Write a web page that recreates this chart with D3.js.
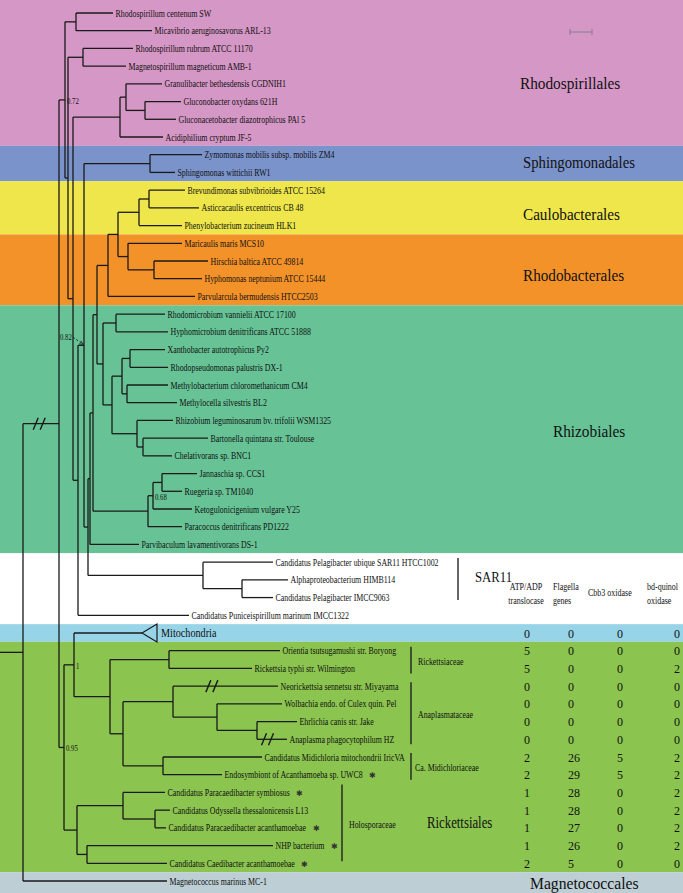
<!DOCTYPE html>
<html><head><meta charset="utf-8">
<script src="https://cdn.jsdelivr.net/npm/d3@7"></script>
<style>
body{margin:0;background:#fff}
svg{display:block}
text{font-family:"Liberation Serif","Times New Roman",serif;fill:#111}
</style></head>
<body><svg id="chart" width="683" height="893"></svg>
<script>
// ---------------- DATA ----------------
// Tree topology with branch lengths (Newick); internal labels are support values
const treeNewick = [
"((",
" (",
"  (Rhodospirillum centenum SW:0.037,Micavibrio aeruginosavorus ARL-13:0.076):0.011,",
"  (",
"   (Rhodospirillum rubrum ATCC 11170:0.050,Magnetospirillum magneticum AMB-1:0.043):0.015,",
"   (",
"    ((Granulibacter bethesdensis CGDNIH1:0.036,(Gluconobacter oxydans 621H:0.036,Gluconacetobacter diazotrophicus PAl 5:0.031):0.019):0.006,Acidiphilium cryptum JF-5:0.043):0.047,",
"    (",
"     (",
"      (Zymomonas mobilis subsp. mobilis ZM4:0.052,Sphingomonas wittichii RW1:0.025):0.066,",
"      (",
"       (",
"        (",
"         (",
"          ((",
"           ((Brevundimonas subvibrioides ATCC 15264:0.036,Asticcacaulis excentricus CB 48:0.050):0.010,Phenylobacterium zucineum HLK1:0.043):0.021,",
"           (Maricaulis maris MCS10:0.054,(Hirschia baltica ATCC 49814:0.054,Hyphomonas neptunium ATCC 15444:0.048):0.026):0.010",
"          ):0.010,",
"          Parvularcula bermudensis HTCC2503:0.087",
"         ):0.011,",
"         (",
"          (Rhodomicrobium vannielii ATCC 17100:0.049,Hyphomicrobium denitrificans ATCC 51888:0.052):0.013,",
"          (",
"           ((Xanthobacter autotrophicus Py2:0.035,Rhodopseudomonas palustris DX-1:0.038):0.008,(Methylobacterium chloromethanicum CM4:0.041,Methylocella silvestris BL2:0.050):0.005):0.010,",
"           (Rhizobium leguminosarum bv. trifolii WSM1325:0.036,(Bartonella quintana str. Toulouse:0.065,Chelativorans sp. BNC1:0.029):0.006):0.025",
"          ):0.009",
"         ):0.006",
"        ):0.004,",
"        (((Jannaschia sp. CCS1:0.035,Ruegeria sp. TM1040:0.020):0.009,Ketogulonicigenium vulgare Y25:0.039)0.68:0.005,Paracoccus denitrificans PD1222:0.034):0.055",
"       ):0.003,",
"       Parvibaculum lavamentivorans DS-1:0.049",
"      ):0.002,",
"      (Candidatus Pelagibacter ubique SAR11 HTCC1002:0.070,(Alphaproteobacterium HIMB114:0.046,Candidatus Pelagibacter IMCC9063:0.031):0.039):0.115",
"     ):0.004",
"    )0.82:0.006,",
"    Candidatus Puniceispirillum marinum IMCC1322:0.111",
"   ):0.005",
"  ):0.005",
" ):0.003",
")0.72:0.006,",
"(",
" (Mitochondria:0.068,",
"  ((Orientia tsutsugamushi str. Boryong:0.111,Rickettsia typhi str. Wilmington:0.083):0.059,",
"   ((Neorickettsia sennetsu str. Miyayama:0.105,(Wolbachia endo. of Culex quin. Pel:0.065,(Ehrlichia canis str. Jake:0.040,Anaplasma phagocytophilum HZ:0.030):0.040):0.044):0.050,",
"    (Candidatus Midichloria mitochondrii IricVA:0.099,Endosymbiont of Acanthamoeba sp. UWC8:0.059):0.040",
"   ):0.013",
"  ):0.036",
" )1:0.010,",
" ((Candidatus Paracaedibacter symbiosus:0.042,(Candidatus Odyssella thessalonicensis L13:0.015,Candidatus Paracaedibacter acanthamoebae:0.011):0.032):0.046,",
"  (NHP bacterium:0.186,Candidatus Caedibacter acanthamoebae:0.080):0.010",
" ):0.013",
")0.95:0.005",
"):0.036,Magnetococcus marinus MC-1:0.144);"
].join("");

const collapsedTaxa = ["Mitochondria"];
const brokenBranches = ["Neorickettsia sennetsu str. Miyayama","Anaplasma phagocytophilum HZ"];
const asteriskTaxa = ["Endosymbiont of Acanthamoeba sp. UWC8","Candidatus Paracaedibacter symbiosus",
  "Candidatus Paracaedibacter acanthamoebae","NHP bacterium","Candidatus Caedibacter acanthamoebae"];

// Coloured clade bands (leaf index ranges)
const cladeNames = ["Rhodospirillales","Sphingomonadales","Caulobacterales","Rhodobacterales","Rhizobiales","SAR11","","Rickettsiales","Magnetococcales"];
const cladeFirst = [0,8,10,13,17,31,35,36,49];
const cladeLast  = [7,9,12,16,30,34,35,48,49];

// Rickettsiales families (leaf index ranges)
const familyNames = ["Rickettsiaceae","Anaplasmataceae","Ca. Midichloriaceae","Holosporaceae"];
const familyFirst = [36,38,42,44];
const familyLast  = [37,41,43,48];

// Genome feature table
const tableHeaders = [["ATP/ADP","translocase"],["Flagella","genes"],["Cbb3 oxidase"],["bd-quinol","oxidase"]];
const tableTaxa = ["Mitochondria","Orientia tsutsugamushi str. Boryong","Rickettsia typhi str. Wilmington",
 "Neorickettsia sennetsu str. Miyayama","Wolbachia endo. of Culex quin. Pel","Ehrlichia canis str. Jake",
 "Anaplasma phagocytophilum HZ","Candidatus Midichloria mitochondrii IricVA","Endosymbiont of Acanthamoeba sp. UWC8",
 "Candidatus Paracaedibacter symbiosus","Candidatus Odyssella thessalonicensis L13","Candidatus Paracaedibacter acanthamoebae",
 "NHP bacterium","Candidatus Caedibacter acanthamoebae"];
const atpTranslocase = [0,5,5,0,0,0,0,2,2,1,1,1,1,2];
const flagellaGenes  = [0,0,0,0,0,0,0,26,29,28,28,27,26,5];
const cbb3Oxidase    = [0,0,0,0,0,0,0,5,5,0,0,0,0,0];
const bdQuinolOxidase= [0,0,2,0,0,0,0,2,2,2,2,2,2,0];

// ---------------- STYLE / LAYOUT ----------------
const W = 683, H = 893;
const bandColors = ["#D597C5","#7B93CB","#EEE64B","#F4922A","#67C396","#FFFFFF","#97D4E7","#8BC44F","#BDCED5"];
// x, baseline y, font size, horizontal scale
const bandLabelPos = [[520,89,17,0.9],[523,168,16,0.92],[523,220,16,0.95],[523,281,16,0.95],[553,437,17,0.9],[475,582,15,0.85],[0,0,0,1],[427,828,16,0.8],[530,889,17,0.92]];
const lineColor = "#1a1a1a";
const SX = 0.75; // horizontal compression of text

function parseNewick(s){
  s = s.replace(/\s*([(),:;])\s*/g,"$1");
  let i = 0;
  function node(){
    const n = {children:[]};
    if (s[i] === "("){
      i++; n.children.push(node());
      while (s[i] === ","){ i++; n.children.push(node()); }
      i++;
    }
    let name = "";
    while (i < s.length && "(),:;".indexOf(s[i]) < 0) name += s[i++];
    n.name = name.trim();
    if (s[i] === ":"){ i++; let num = ""; while (i < s.length && "(),;".indexOf(s[i]) < 0) num += s[i++]; n.length = +num; }
    if (!n.children.length) delete n.children;
    return n;
  }
  return node();
}

const root = d3.hierarchy(parseNewick(treeNewick));
root.eachBefore(d => d.dist = d.parent ? d.parent.dist + (d.data.length || 0) : 0);
const leaves = root.leaves();
leaves.forEach((d,i) => d.idx = i);
const x = d3.scaleLinear().domain([0, 0.3]).range([23, 323]);
const y = d3.scaleLinear().domain([0, leaves.length - 1]).range([13, 881]);
root.eachAfter(d => {
  d.px = x(d.dist);
  d.py = d.children ? (d.children[0].py + d.children[d.children.length-1].py) / 2 : y(d.idx);
});
const leafByName = new Map(leaves.map(d => [d.data.name, d]));

const svg = d3.select("#chart");

// Bands
const bandTop = i => cladeFirst[i] === 0 ? 0 : y(cladeFirst[i] - 0.5);
const bandBot = i => cladeLast[i] === leaves.length - 1 ? H : y(cladeLast[i] + 0.5);
svg.append("g").selectAll("rect").data(cladeNames).join("rect")
  .attr("x", 0).attr("width", W)
  .attr("y", (d,i) => bandTop(i)).attr("height", (d,i) => bandBot(i) - bandTop(i))
  .attr("fill", (d,i) => bandColors[i]);

// Tree
const g = svg.append("g").attr("stroke", lineColor).attr("stroke-width", 1.3).attr("fill", "none");
g.append("line").attr("x1", 0).attr("x2", root.px).attr("y1", root.py).attr("y2", root.py);
g.selectAll("line.h").data(root.descendants().filter(d => d.parent)).join("line").attr("class","h")
  .attr("x1", d => d.parent.px).attr("x2", d => d.px).attr("y1", d => d.py).attr("y2", d => d.py);
g.selectAll("line.v").data(root.descendants().filter(d => d.children)).join("line").attr("class","v")
  .attr("x1", d => d.px).attr("x2", d => d.px)
  .attr("y1", d => d.children[0].py).attr("y2", d => d.children[d.children.length-1].py);

function breakMark(cx, cy){
  [-3.5, 3.5].forEach(dx => {
    g.append("line").attr("x1", cx + dx - 2.5).attr("y1", cy + 6).attr("x2", cx + dx + 2.5).attr("y2", cy - 6)
      .attr("stroke-width", 1.4);
  });
}
const deepNode = root.children[0];
breakMark(root.px + (deepNode.px - root.px) * 0.45, deepNode.py);
brokenBranches.forEach(n => {
  const d = leafByName.get(n);
  const frac = n.startsWith("Neo") ? 0.37 : 0.35;
  breakMark(d.parent.px + (d.px - d.parent.px) * frac, d.py);
});

collapsedTaxa.forEach(n => {
  const d = leafByName.get(n);
  g.append("path").attr("d", `M${d.px},${d.py}L${d.px+15},${d.py-9}L${d.px+15},${d.py+9}Z`)
    .attr("stroke-width", 1.2);
});

// leaf labels
const tl = svg.append("g");
leaves.forEach(d => {
  const coll = collapsedTaxa.includes(d.data.name);
  const tx = coll ? d.px + 19 : d.px + 2.5;
  const sx = coll ? 0.85 : SX;
  const t = tl.append("text")
    .attr("transform", `translate(${tx},${d.py + 3.6}) scale(${sx},1)`)
    .attr("font-size", coll ? 12 : 10.5)
    .text(d.data.name);
  d.labelEnd = tx + t.node().getComputedTextLength() * sx;
  if (asteriskTaxa.includes(d.data.name)) {
    tl.append("text").attr("x", d.labelEnd + 10).attr("y", d.py + 3.5)
      .attr("font-family", "DejaVu Sans").attr("text-anchor","middle").text("\u2731")
      .style("font-size","8px").style("fill","#333");
  }
});

// support values
root.descendants().filter(d => d.children && d.data.name).forEach(d => {
  if (d.data.name === "0.82") {
    tl.append("text").attr("transform", `translate(${d.px - 24},${d.py - 5}) scale(${SX},1)`)
      .attr("font-size", 9).text(d.data.name);
    tl.append("path").attr("d", `M${d.px-11},${d.py-8}L${d.px-2},${d.py-2}`)
      .attr("stroke", lineColor).attr("stroke-dasharray","2,2").attr("stroke-width",1);
    tl.append("path").attr("d", `M${d.px-5},${d.py-1.5}L${d.px-1},${d.py-1}L${d.px-3},${d.py-4.5}`)
      .attr("stroke", lineColor).attr("fill","none").attr("stroke-width",0.8);
  } else {
    tl.append("text").attr("transform", `translate(${d.px + 2},${d.py + 4}) scale(${SX},1)`)
      .attr("font-size", 9).text(d.data.name);
  }
});

// band labels
cladeNames.forEach((n,i) => {
  if (!n) return;
  const p = bandLabelPos[i];
  tl.append("text").attr("transform", `translate(${p[0]},${p[1]}) scale(${p[3]},1)`)
    .attr("font-size", p[2]).text(n);
});
// SAR11 bar
tl.append("line").attr("x1", 458).attr("x2", 458).attr("y1", 558).attr("y2", 600)
  .attr("stroke", "#333").attr("stroke-width", 1.5);

// family bars & labels
const famBarX = [411,411,411,342];
const famLabelX = [418,418,415,349];
familyNames.forEach((n,i) => {
  const top = y(familyFirst[i]) - (i === 3 ? 8 : 4);
  const bot = y(familyLast[i]) + (i === 3 ? -2 : 5);
  tl.append("line").attr("x1", famBarX[i]).attr("x2", famBarX[i]).attr("y1", top).attr("y2", bot)
    .attr("stroke", "#222").attr("stroke-width", 1.4);
  tl.append("text").attr("transform", `translate(${famLabelX[i]},${(top + bot)/2 + 5}) scale(${SX},1)`)
    .attr("font-size", 10.5).text(n);
});

// table headers
const colX = [526, 553, 588, 647];
const colAnchor = ["middle","start","start","start"];
tableHeaders.forEach((h,i) => {
  h.forEach((line,j) => {
    const yy = h.length === 1 ? 596 : 590 + j * 13.5;
    tl.append("text").attr("font-size", 10)
      .attr("transform", `translate(${colX[i]},${yy}) scale(0.8,1)`)
      .attr("text-anchor", colAnchor[i]).text(line);
  });
});
// table values
const valueCols = [atpTranslocase, flagellaGenes, cbb3Oxidase, bdQuinolOxidase];
const valX = [527, 568, 620, 677];
const valAnchor = ["middle","start","middle","middle"];
tableTaxa.forEach((n,r) => {
  const d = leafByName.get(n);
  valueCols.forEach((col,c) => {
    tl.append("text").attr("x", valX[c]).attr("y", d.py + 4.5).attr("font-size", 12)
      .attr("text-anchor", valAnchor[c]).text(col[r]);
  });
});

// scale bar
svg.append("path").attr("d", "M570,29V35M570,32H592M592,29V35")
  .attr("stroke", "#8a7f8a").attr("stroke-width", 1).attr("fill", "none");
</script></body></html>
